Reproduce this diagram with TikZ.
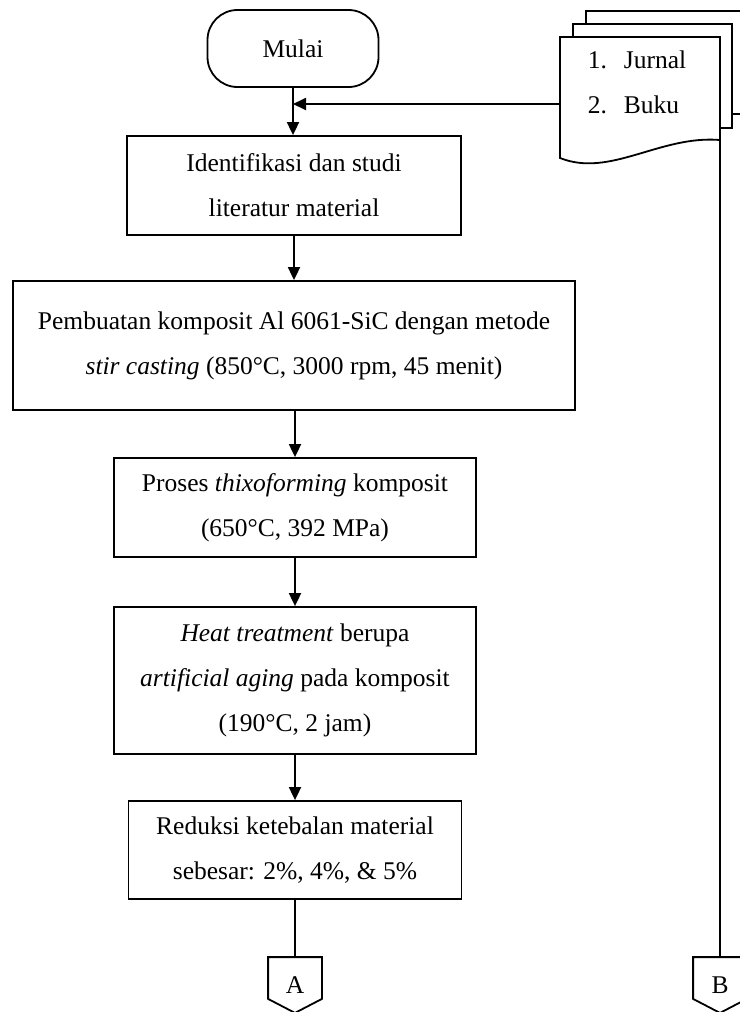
\documentclass[tikz,border=0pt]{standalone}
\usepackage{fontspec}
\setmainfont{Liberation Serif}
\usetikzlibrary{arrows.meta,positioning}

\begin{document}
\begin{tikzpicture}[x=1pt,y=-1pt,line width=1.8pt,
  font=\fontsize{25.5}{45}\selectfont,
  proses/.style={draw,align=center,inner sep=0pt},
  terminal/.style={draw,rounded corners=30pt,minimum width=171pt,minimum height=77pt},
  konektor/.style={minimum width=52pt,minimum height=54pt,inner sep=0pt},
  panah/.style={-{Triangle[length=13pt,width=12pt]}}]
  \useasboundingbox (0,0) rectangle (739,1012);
  % alur utama
  \node[terminal] (mulai) at (293,48.5) {Mulai};
  \node[proses,minimum width=334pt,minimum height=99pt] (identifikasi) at (294,185.5) {Identifikasi dan studi\\literatur material};
  \node[proses,minimum width=562pt,minimum height=129pt] (pembuatan) at (294,345.5) {Pembuatan komposit Al 6061-SiC dengan metode\\\textit{stir casting} (850°C, 3000 rpm, 45 menit)};
  \node[proses,minimum width=362pt,minimum height=99pt] (thixo) at (295,507.5) {Proses \textit{thixoforming} komposit\\(650°C, 392 MPa)};
  \node[proses,minimum width=362pt,minimum height=147pt] (aging) at (295,680.5) {\textit{Heat treatment} berupa\\\textit{artificial aging} pada komposit\\(190°C, 2 jam)};
  \node[proses,minimum width=333pt,minimum height=98pt] (reduksi) at (295,850) {Reduksi ketebalan material\\sebesar: 2\%, 4\%, \& 5\%};
  \node[konektor] (A) at (295,985) {A};
  \node[konektor] (B) at (720,985) {B};
  \draw (A.north west) -- (A.north east) -- ([yshift=14pt]A.south east) -- (A.south) -- ([yshift=14pt]A.south west) -- cycle;
  \draw (B.north west) -- (B.north east) -- ([yshift=14pt]B.south east) -- (B.south) -- ([yshift=14pt]B.south west) -- cycle;
  % dokumen pustaka
  \draw[fill=white] (586,11) rectangle (750,114);
  \draw[fill=white] (573,24) rectangle (732,128);
  \draw[fill=white] (560,37) -- (720,37) -- (720,140) .. controls (660,135) and (610,178) .. (560,158) -- cycle;
  \node[anchor=west,align=left,inner sep=0pt] (pustaka) at (587,82.5) {\makebox[36pt][l]{1.}Jurnal\\\makebox[36pt][l]{2.}Buku};
  \coordinate (docin) at (560,104);
  \coordinate (docout) at (720,140);
  % panah
  \draw[panah] (mulai.south) -- (mulai.south |- identifikasi.north);
  \draw[panah] (docin) -- (docin -| mulai.south);
  \draw[panah] (identifikasi) -- (identifikasi |- pembuatan.north);
  \draw[panah] (pembuatan.south -| thixo.north) -- (thixo);
  \draw[panah] (thixo) -- (aging);
  \draw[panah] (aging) -- (reduksi);
  \draw (reduksi) -- (A);
  \draw (docout) -- (B.north);
\end{tikzpicture}
\end{document}
